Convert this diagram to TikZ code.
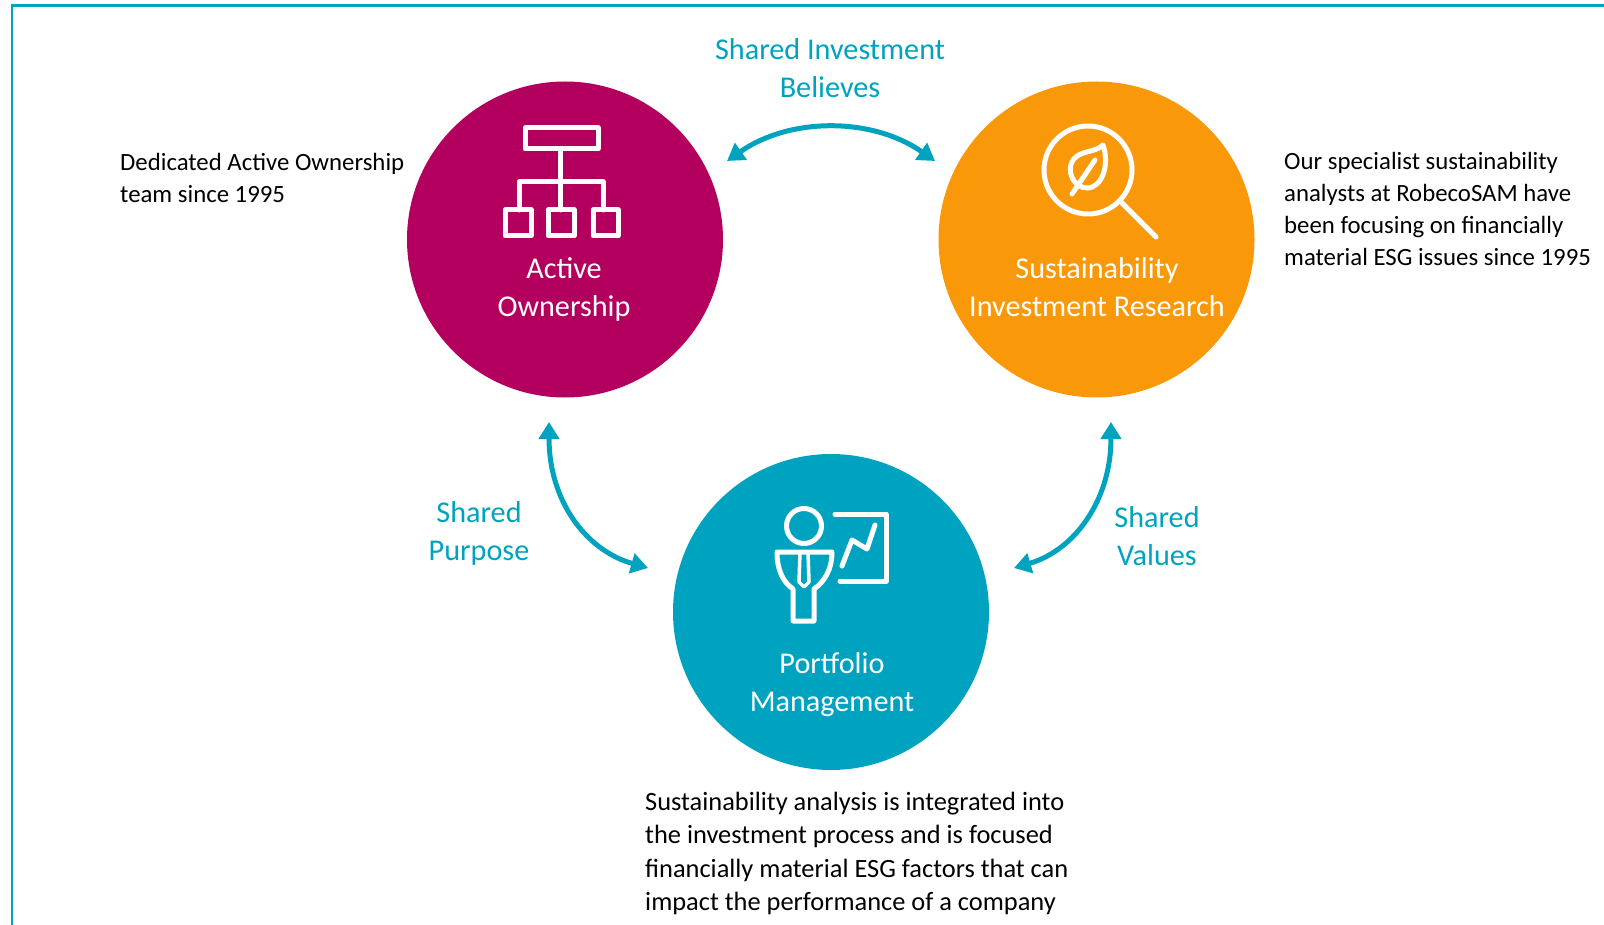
\documentclass[tikz,border=0pt]{standalone}
\usepackage{fontspec}
\setmainfont{Carlito}
\usetikzlibrary{arrows.meta}
\definecolor{teal}{HTML}{00A3BF}
\definecolor{berry}{HTML}{B3005E}
\definecolor{amber}{HTML}{F9990A}
\tikzset{
 x=1pt,y=-1pt,
 disc/.style={circle,minimum size=316pt,inner sep=0pt},
 inlabel/.style={text=white,align=center,font=\fontsize{30.2}{38}\selectfont},
 teallabel/.style={text=teal,align=center,font=\fontsize{30.2}{38}\selectfont},
 bodytext/.style={text=black,align=left,inner sep=0pt,font=\fontsize{24.8}{32}\selectfont},
 bodylarge/.style={text=black,align=left,inner sep=0pt,font=\fontsize{26.4}{33.3}\selectfont},
 link/.style={draw=teal,line width=5pt,{Triangle[length=17pt,width=20pt]}-{Triangle[length=17pt,width=20pt]}},
 icon/.style={draw=white,line width=5pt,line join=round,line cap=round},
}
\begin{document}
\begin{tikzpicture}
\useasboundingbox (0,0) rectangle (1604,925);
\draw[teal,line width=2.4pt] (12,925) -- (12,5.5) -- (1604,5.5);
\node[disc,fill=berry] (ao) at (565,239.5) {};
\node[disc,fill=amber] (sr) at (1096.5,239.5) {};
\node[disc,fill=teal] (pm) at (831,612) {};
\coordinate (t1) at (727,161);
\coordinate (t2) at (935,161);
\coordinate (l1) at (549,422);
\coordinate (l2) at (648,568);
\coordinate (r1) at (1111,422);
\coordinate (r2) at (1014,568);
\draw[link] (t1) .. controls (790,117) and (872,117) .. (t2);
\draw[link] (l1) .. controls (549,500) and (585,550) .. (l2);
\draw[link] (r1) .. controls (1111,500) and (1075,550) .. (r2);
\node[inlabel] (aol) at (564,289) {Active\\Ownership};
\node[inlabel] (srl) at (1097,287) {Sustainability\\Investment Research};
\node[inlabel] (pml) at (832,685) {Portfolio\\Management};
\node[teallabel] (tl) at (830,68) {Shared Investment\\Believes};
\node[teallabel] (ll) at (479,533) {Shared\\Purpose};
\node[teallabel] (rl) at (1157,536) {Shared\\Values};
\node[bodytext,anchor=north west] (tao) at (120,153.5) {Dedicated Active Ownership\\team since 1995};
\node[bodytext,anchor=north west] (tsr) at (1284,152) {Our specialist sustainability\\analysts at RobecoSAM have\\been focusing on financially\\material ESG issues since 1995};
\node[bodylarge,anchor=north west] (tpm) at (645,792) {Sustainability analysis is integrated into\\the investment process and is focused\\financially material ESG factors that can\\impact the performance of a company};
% org chart icon
\draw[icon] (525,128) rectangle (598,149);
\draw[icon] (560,149) -- (560,210);
\draw[icon] (519,210) -- (519,182) -- (603,182) -- (603,210);
\draw[icon] (505,210) rectangle (531,236);
\draw[icon] (548,210) rectangle (574,236);
\draw[icon] (593,210) rectangle (618,236);
% magnifier icon
\draw[icon] (1088,170) circle (44);
\draw[icon] (1122,203) -- (1156,237);
\draw[icon] (1103,145) .. controls (1095,153) and (1080,150) .. (1073,160) .. controls (1066,170) and (1073,188) .. (1087,188) .. controls (1102,188) and (1110,165) .. (1103,145) -- cycle;
\draw[icon] (1072,194) -- (1095,160);
% presenter icon
\draw[icon] (804,526) circle (17.5);
\draw[icon] (777,552) -- (832,552) .. controls (832,570) and (824,582) .. (814,589) -- (814,621) -- (793,621) -- (793,589) .. controls (783,582) and (777,570) .. (777,552) -- cycle;
\draw[icon,line width=3.5pt] (800,552) -- (799,582) -- (804,587) -- (809,582) -- (808,552);
\draw[icon] (835,514) -- (886,514) -- (886,581) -- (840,581);
\draw[icon] (842,566) -- (852,540) -- (867,549) -- (875,525);
\end{tikzpicture}
\end{document}
